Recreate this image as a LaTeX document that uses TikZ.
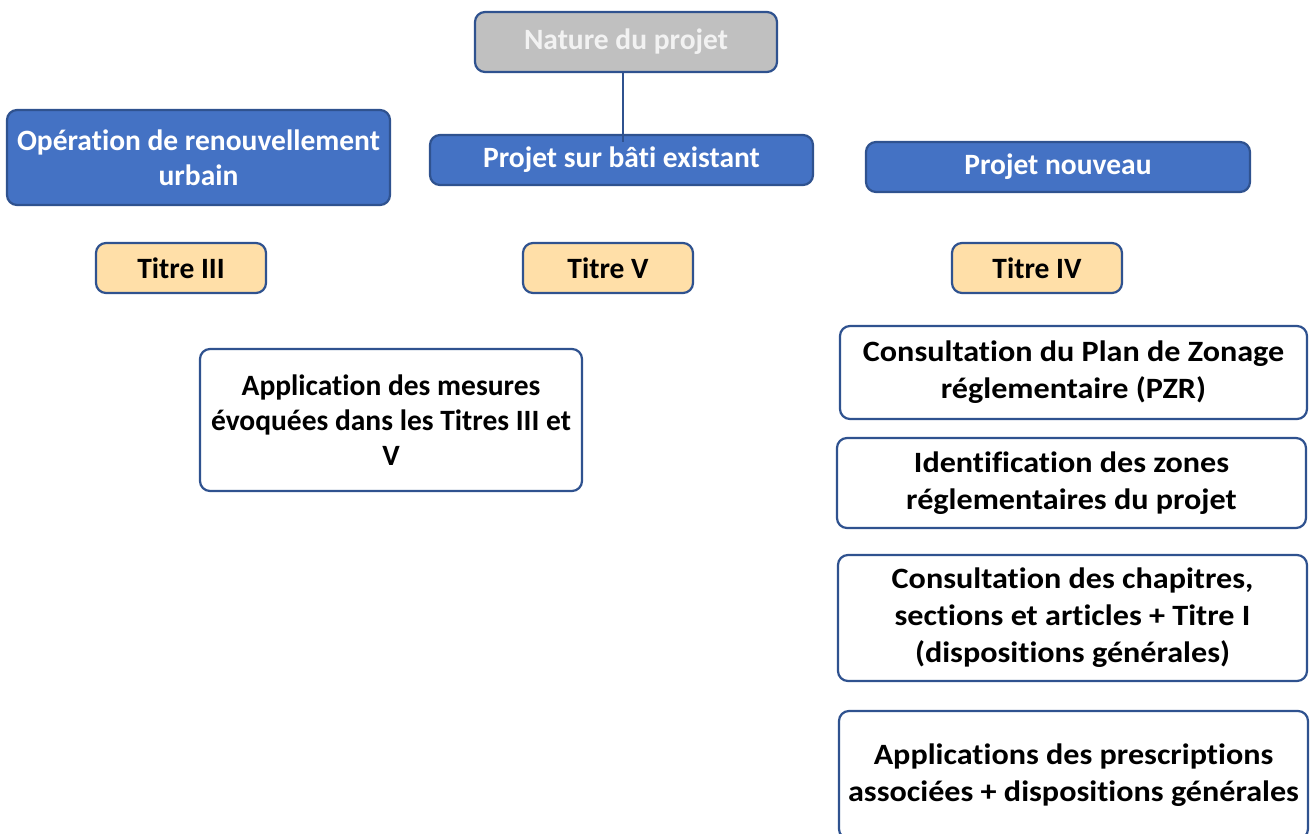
\documentclass[tikz,border=0pt]{standalone}
\usepackage{fontspec}
\setmainfont{Carlito}[Ligatures=NoCommon]
\newfontfamily\widefont{Carlito}[Ligatures=NoCommon, FakeStretch=1.09]
\definecolor{bord}{HTML}{2F528F}
\definecolor{blu}{HTML}{4472C4}
\definecolor{gry}{HTML}{C0C0C0}
\definecolor{gtx}{HTML}{F2F2F2}
\definecolor{org}{HTML}{FFDFA8}
\tikzset{
  base/.style={draw=bord, line width=2.2pt, rounded corners=10pt, inner sep=0pt, align=center, font=\bfseries\fontsize{29.5}{35}\selectfont},
  bluebox/.style={base, fill=blu, text=white},
  titbox/.style={base, fill=org, text=black, minimum width=170pt, minimum height=50pt},
  whitebox/.style={base, fill=white, text=black, font=\widefont\bfseries\fontsize{29.5}{37}\selectfont},
}
\begin{document}
\begin{tikzpicture}[x=1pt,y=-1pt]
\useasboundingbox (0,0) rectangle (1314,834);
\clip (0,0) rectangle (1314,834);
\node[base, fill=gry, text=gtx, minimum width=302pt, minimum height=60pt] (nat) at (626,42) {Nature du projet};
\node[bluebox, minimum width=383pt, minimum height=95pt] (op) at (198.5,157.5) {Opération de renouvellement\\urbain};
\node[bluebox, minimum width=383pt, minimum height=50pt] (psb) at (621.5,160) {Projet sur bâti existant};
\node[bluebox, minimum width=384pt, minimum height=50pt] (pn) at (1058,167) {Projet nouveau};
\draw[bord, line width=2pt] (nat.south -| 623,0) -- (623,142);
\node[titbox] (t3) at (181,268) {Titre III};
\node[titbox] (t5) at (608,268) {Titre V};
\node[titbox] (t4) at (1037,268) {Titre IV};
\node[base, fill=white, text=black, minimum width=382pt, minimum height=142pt] (app) at (391,420) {Application des mesures\\évoquées dans les Titres III et\\V};
\node[whitebox, minimum width=467pt, minimum height=93pt] (c1) at (1073.5,372.5) {Consultation du Plan de Zonage\\réglementaire (PZR)};
\node[whitebox, minimum width=469pt, minimum height=90pt] (c2) at (1071.5,483) {Identification des zones\\réglementaires du projet};
\node[whitebox, minimum width=469pt, minimum height=126pt] (c3) at (1072.5,618) {Consultation des chapitres,\\sections et articles + Titre I\\(dispositions générales)};
\node[whitebox, minimum width=469pt, minimum height=128pt] (c4) at (1073.5,775) {Applications des prescriptions\\associées + dispositions générales};
\end{tikzpicture}
\end{document}
